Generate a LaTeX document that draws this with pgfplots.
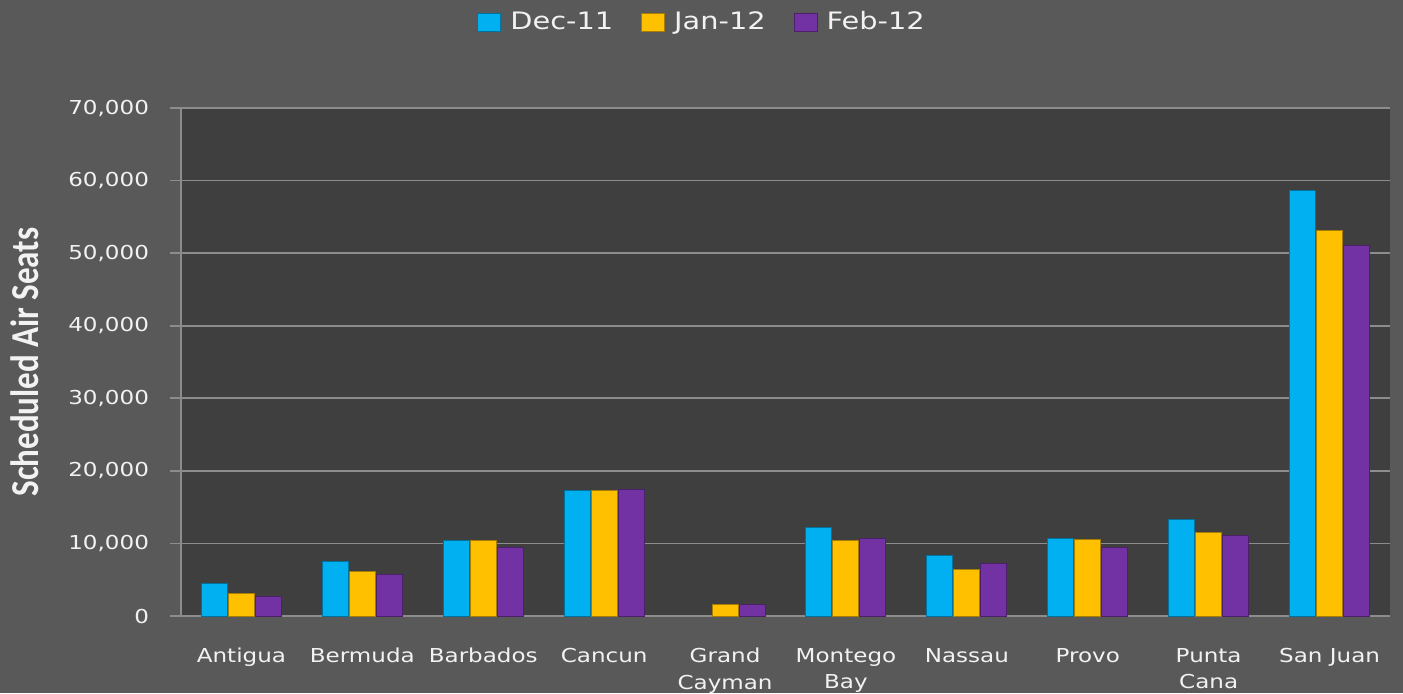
\documentclass[border=0pt]{standalone}
\usepackage{fontspec}
\usepackage{graphicx}
\usepackage{pgfplots}
\pgfplotsset{compat=1.18}
\setmainfont{DejaVu Sans}[FakeStretch=1.2]
\newfontfamily\labelfont{Carlito}[BoldFont={Carlito Bold}]

\definecolor{pagebg}{HTML}{595959}
\definecolor{plotbg}{HTML}{3F3F3F}
\definecolor{gridgray}{HTML}{8C8C8C}
\definecolor{labelwhite}{HTML}{F2F2F2}
\definecolor{decbar}{HTML}{00B0F0}
\definecolor{janbar}{HTML}{FFC000}
\definecolor{febbar}{HTML}{7332A3}

\pgfplotsset{
  sqlegend/.style={legend image code/.code={\fill[##1] (0pt,-4.5pt) rectangle (11.5pt,4.5pt); \path (14pt,0pt);}},
}

% seats per month, categories at 0..9 (no Dec-11 bar for Grand Cayman)
\pgfplotstableread{
x dec jan feb
0 4540 3070 2750
1 7470 6190 5740
2 10410 10410 9400
3 17300 17300 17400
4 nan 1610 1540
5 12150 10410 10630
6 8390 6420 7200
7 10700 10500 9480
8 13290 11550 11030
9 58660 53090 51010
}\seats

\begin{document}
\begin{tikzpicture}
\path[use as bounding box, fill=pagebg] (-90.5pt,-38.5pt) rectangle (611pt,308pt);
\begin{axis}[
  at={(0pt,0pt)}, anchor=south west,
  scale only axis, width=604.5pt, height=254pt,
  ybar=0.5pt, bar width=13pt,
  xmin=-0.5, xmax=9.5, ymin=0, ymax=70000,
  enlargelimits=false,
  axis background/.style={fill=plotbg},
  axis x line*=bottom, axis y line*=left,
  axis line style={draw=gridgray, line width=0.8pt},
  tick align=outside, major tick length=5.5pt,
  xtick={0,...,9},
  xticklabels={Antigua,Bermuda,Barbados,Cancun,Grand\\Cayman,Montego\\Bay,Nassau,Provo,Punta\\Cana,San Juan},
  xtick style={draw=none},
  extra x ticks={-0.5,0.5,...,9.5}, extra x tick labels={},
  extra x tick style={grid=none, major tick length=4pt, tick style={draw=gridgray, line width=0.8pt}},
  ytick distance=10000,
  ymajorgrids, grid style={draw=gridgray, line width=0.8pt},
  ytick style={draw=gridgray, line width=0.8pt},
  scaled y ticks=false,
  /pgf/number format/.cd, 1000 sep={,}, assume math mode=true, /pgfplots/.cd,
  tick label style={font=\fontsize{9.6}{13.3}\selectfont, text=labelwhite},
  xticklabel style={align=center, yshift=-7pt},
  yticklabel style={xshift=-7pt},
  ylabel={\scalebox{1}[1.2]{\labelfont\bfseries Scheduled Air Seats}},
  ylabel style={at={(axis description cs:-0.129,0.5)}, anchor=center, text=labelwhite, font=\fontsize{16.5}{20}\selectfont},
  legend style={at={(axis description cs:0.4318,1.169)}, anchor=center, draw=none, fill=none,
    text=labelwhite, font=\fontsize{12}{14}\selectfont,
    /tikz/every even column/.append style={column sep=12pt}},
  legend columns=-1,
]
\addplot[fill=decbar, draw=decbar!65!black, line width=0.5pt, sqlegend] table[x=x, y=dec] {\seats};
\addplot[fill=janbar, draw=janbar!65!black, line width=0.5pt, sqlegend] table[x=x, y=jan] {\seats};
\addplot[fill=febbar, draw=febbar!65!black, line width=0.5pt, sqlegend] table[x=x, y=feb] {\seats};
\legend{Dec-11, Jan-12, Feb-12}
\end{axis}
\end{tikzpicture}
\end{document}
